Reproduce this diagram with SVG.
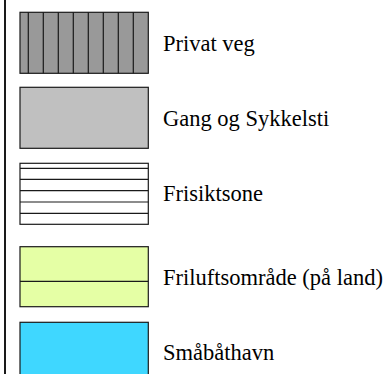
<svg xmlns="http://www.w3.org/2000/svg" width="385" height="374" viewBox="0 0 385 374">
  <style>
    .box { stroke: #1a1a1a; stroke-width: 1.2; }
    .ln { stroke: #1a1a1a; stroke-width: 1.2; fill: none; }
    .lbl { font-family: "Liberation Serif", "Times New Roman", serif; font-size: 22.5px; fill: #000; }
  </style>
  <rect x="0" y="0" width="385" height="374" fill="#ffffff"/>
  <line x1="5" y1="0" x2="5" y2="374" stroke="#1a1a1a" stroke-width="2"/>

  <g id="privat-veg">
    <rect class="box" x="20" y="12.3" width="128.3" height="61" fill="#999999"/>
    <path class="ln" d="M28.3 12.3V73.3M43.3 12.3V73.3M58.3 12.3V73.3M73.3 12.3V73.3M88.3 12.3V73.3M103.3 12.3V73.3M118.3 12.3V73.3M133.3 12.3V73.3"/>
    <text class="lbl" x="163" y="51">Privat veg</text>
  </g>

  <g id="gang-og-sykkelsti">
    <rect class="box" x="20" y="87.3" width="128.3" height="61" fill="#c0c0c0"/>
    <text class="lbl" x="163" y="126">Gang og Sykkelsti</text>
  </g>

  <g id="frisiktsone">
    <rect class="box" x="20" y="163.3" width="128.3" height="61" fill="#ffffff"/>
    <path class="ln" d="M20 168.3H148.3M20 179.3H148.3M20 190.7H148.3M20 202H148.3M20 213.3H148.3"/>
    <text class="lbl" x="163" y="201">Frisiktsone</text>
  </g>

  <g id="friluftsomrade">
    <rect class="box" x="20" y="246.7" width="128.3" height="60" fill="#e5ffa5"/>
    <path class="ln" d="M20 281.3H148.3"/>
    <text class="lbl" x="163" y="285">Friluftsområde (på land)</text>
  </g>

  <g id="smabathavn">
    <rect class="box" x="20" y="322.3" width="128.3" height="60" fill="#3fd7ff"/>
    <text class="lbl" x="163" y="360">Småbåthavn</text>
  </g>
</svg>
